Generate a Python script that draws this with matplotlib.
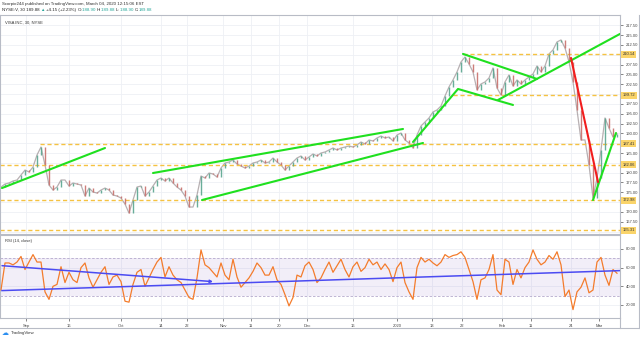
import numpy as np
import matplotlib.pyplot as plt
from matplotlib import transforms

plt.rcParams['font.family'] = ['Liberation Sans', 'DejaVu Sans']

# V, 30 min closes, sampled about once per session (bar index 0..154)
close = [176.35, 177.11, 177.37, 177.88, 178.13, 179.40, 180.67, 180.17, 181.44, 184.49,
         186.53, 181.95, 176.86, 175.58, 176.35, 178.13, 178.13, 176.60, 177.37, 177.11,
         176.86, 174.06, 176.09, 175.08, 174.82, 175.58, 176.09, 175.58, 174.31, 174.06,
         173.55, 172.02, 169.73, 173.04, 176.35, 176.60, 174.06, 175.08, 176.60, 178.13,
         178.64, 177.88, 178.64, 177.37, 176.35, 175.58, 174.06, 171.26, 171.26, 174.31,
         179.15, 178.64, 179.91, 179.66, 178.89, 181.18, 182.46, 182.71, 183.22, 182.20,
         181.69, 181.18, 181.69, 182.46, 182.71, 183.22, 182.46, 182.71, 183.73, 182.71,
         181.95, 180.67, 181.69, 182.71, 183.73, 184.24, 183.22, 183.98, 184.75, 184.24,
         185.00, 185.26, 185.77, 186.27, 185.77, 186.27, 186.53, 186.78, 186.53, 187.04,
         187.80, 187.29, 188.31, 188.06, 188.82, 189.33, 188.82, 189.07, 188.06, 189.58,
         190.09, 188.31, 187.55, 186.27, 189.58, 191.87, 192.89, 193.91, 195.44, 195.95,
         196.96, 199.51, 201.80, 203.58, 205.62, 208.16, 209.43, 207.65, 205.62, 201.04,
         202.56, 203.07, 204.09, 206.63, 201.54, 199.76, 203.07, 204.85, 202.05, 203.58,
         202.56, 203.58, 204.34, 205.11, 207.14, 205.62, 207.14, 210.20, 211.22, 213.25,
         213.76, 211.72, 208.16, 203.07, 195.95, 188.31, 188.31, 181.95, 173.55, 178.64,
         185.77, 193.91, 191.37, 189.07, 189.88]

rsi = [36, 65, 65, 63, 66, 72, 58, 66, 74, 66,
       66, 34, 26, 40, 42, 61, 44, 55, 47, 44,
       60, 65, 49, 39, 47, 55, 61, 42, 50, 52,
       45, 24, 23, 42, 55, 58, 40, 49, 58, 66,
       71, 50, 61, 52, 47, 44, 36, 28, 26, 49,
       79, 63, 60, 55, 50, 65, 52, 47, 69, 50,
       39, 44, 49, 56, 65, 60, 52, 52, 61, 47,
       42, 31, 19, 28, 52, 50, 62, 66, 58, 44,
       49, 58, 66, 55, 62, 69, 58, 50, 61, 66,
       56, 60, 69, 63, 66, 58, 64, 58, 45, 60,
       66, 44, 34, 26, 60, 71, 66, 69, 65, 62,
       66, 74, 71, 73, 74, 77, 71, 58, 45, 26,
       47, 49, 58, 74, 36, 31, 69, 66, 42, 58,
       49, 60, 66, 79, 69, 63, 66, 73, 69, 77,
       63, 29, 36, 15, 34, 39, 49, 33, 36, 66,
       71, 52, 41, 58, 54]

tick_pos = [6.25, 17, 30, 40, 46.5, 55.5, 62.5, 69.5, 76.5, 88, 99, 107.75, 115.25,
            125.25, 132.5, 142.5, 149.5]
tick_lab = ['Sep', '16', 'Oct', '14', '22', 'Nov', '11', '20', 'Dec', '16', '2020',
            '13', '22', 'Feb', '11', '24', 'Mar']

levels = [210.14, 199.72, 187.41, 182.06, 172.98, 165.31]
level_from = [115.5, 113, 9.75, -0.25, -0.25, -0.25]

green_lines = [
    [(0.25, 176.09), (26, 186.27)],
    [(38, 179.91), (100.5, 191.11)],
    [(50.25, 173.04), (105.5, 187.55)],
    [(103, 187.80), (114.25, 201.29), (128, 197.22)],
    [(115.5, 210.20), (134, 203.83)],
    [(124.25, 198.49), (154.75, 215.29)],
    [(148, 173.04), (153.75, 190.09)],
]
red_line = [(142.5, 209.18), (149.25, 177.62)]
rsi_arrow = [(0.25, 62.1), (53, 45.0)]
rsi_trend = [(0.25, 35.4), (154.75, 56.8)]

W, H = 640, 341
fig = plt.figure(figsize=(W / 100, H / 100), dpi=100)
ax = fig.add_axes([0, 1 - 234 / H, 620 / W, 219 / H])
ax2 = fig.add_axes([0, 1 - 318 / H, 620 / W, 83 / H], sharex=ax)

grid_c = '#eef0f5'
frame_c = '#b8bcc6'
fs = 3.0

# candles: open = previous close
x = np.arange(len(close))
c = np.array(close)
o = np.r_[c[0], c[:-1]]
up = c >= o
ax.plot(x, c, color='#9a8f92', lw=0.9, alpha=0.7, zorder=2)
ax.vlines(x[up], o[up], c[up], color='#5aa58f', lw=1.0, alpha=0.9, zorder=3)
ax.vlines(x[~up], o[~up], c[~up], color='#c9706c', lw=1.0, alpha=0.9, zorder=3)

for lv, x0 in zip(levels, level_from):
    ax.hlines(lv, x0, 154.75, color='#f5c242', lw=1.0, linestyles=(0, (3, 2)), zorder=2)
    ax.text(1.004, lv, f'{lv:.2f}', transform=transforms.blended_transform_factory(ax.transAxes, ax.transData),
            fontsize=fs, color='#333', va='center', ha='left', clip_on=False,
            bbox=dict(boxstyle='square,pad=0.35', fc='#fad46a', ec='none'))

for seg in green_lines:
    xs, ys = zip(*seg)
    ax.plot(xs, ys, color='#1fe01f', lw=1.5, solid_capstyle='round', zorder=4)
xs, ys = zip(*red_line)
ax.plot(xs, ys, color='#f21d1d', lw=1.5, solid_capstyle='round', zorder=4)

yt = np.arange(165, 218.5, 2.5)
hidden = {165.0, 172.5, 182.5, 187.5, 200.0, 210.0}
ax.set_yticks(yt, ['' if v in hidden else f'{v:.2f}' for v in yt])
ax.set_ylim(164.4, 220.1)
ax.set_xlim(-0.25, 154.75)
ax.text(0.008, 0.975, 'VISA INC, 30, NYSE', transform=ax.transAxes, fontsize=fs, color='#333',
        va='top', ha='left')

# RSI pane
ax2.axhspan(30, 70, color='#9575cd', alpha=0.12, lw=0)
ax2.axhline(70, color='#b4a9cc', lw=0.6, ls=(0, (3, 2)))
ax2.axhline(30, color='#b4a9cc', lw=0.6, ls=(0, (3, 2)))
ax2.plot(np.arange(len(rsi)), rsi, color='#f47c2c', lw=0.9, zorder=3)
ax2.annotate('', xy=rsi_arrow[1], xytext=rsi_arrow[0],
             arrowprops=dict(arrowstyle='->', color='#4b4bf2', lw=1.1, mutation_scale=4,
                             shrinkA=0, shrinkB=0), zorder=4)
xs, ys = zip(*rsi_trend)
ax2.plot(xs, ys, color='#4b4bf2', lw=1.1, zorder=4)
ax2.set_ylim(6, 95)
ax2.set_yticks([20, 40, 60, 80], ['20.00', '40.00', '60.00', '80.00'])
ax2.text(0.008, 0.95, 'RSI (14, close)', transform=ax2.transAxes, fontsize=fs, color='#333',
         va='top', ha='left')
ax2.set_xticks(tick_pos, tick_lab)

for a in (ax, ax2):
    a.yaxis.tick_right()
    a.tick_params(axis='y', labelsize=fs, colors='#555', length=2, width=0.5, pad=2,
                  labelcolor='#444')
    a.grid(True, color=grid_c, lw=0.6)
    a.set_axisbelow(True)
    for s in a.spines.values():
        s.set_color(frame_c)
        s.set_linewidth(0.8)
ax.tick_params(axis='x', length=0, labelbottom=False)
ax2.tick_params(axis='x', labelsize=fs, colors='#555', length=2, width=0.5, pad=2,
                labelcolor='#444')

# outer frame for the time scale strip
fig.add_artist(plt.Line2D([0, 1], [1 - 328 / H] * 2, color=frame_c, lw=0.8))
fig.add_artist(plt.Line2D([620 / W] * 2, [1 - 328 / H, 1 - 318 / H], color=frame_c, lw=0.8))
fig.add_artist(plt.Line2D([1 - 1 / W] * 2, [1 - 328 / H, 1 - 15 / H], color=frame_c, lw=0.8))

# header lines, pieces placed one after another
renderer = fig.canvas.get_renderer()


def chain(parts, x0, y0, size):
    xp = x0
    for s, col in parts:
        t = fig.text(xp / W, 1 - y0 / H, s, fontsize=size, color=col, va='center', ha='left')
        xp = t.get_window_extent(renderer).x1


teal = '#26a69a'
chain([('Scorpio244 published on TradingView.com, March 04, 2020 12:15:06 EST', '#333')], 2, 4, 3.2)
chain([('NYSE:V, 30 189.88 ', '#222'), ('\u25b2 ', teal), ('+4.15 (+2.23%) ', '#222'),
       ('O:', '#222'), ('188.90 ', teal), ('H:', '#222'), ('189.88 ', teal),
       ('L:', '#222'), ('188.90 ', teal), ('C:', '#222'), ('189.88', teal)], 2, 10, 3.2)

fig.text(2 / W, 1 - 333 / H, '\u2601', fontsize=5, color='#2a8ef0', va='center', ha='left',
         family=['DejaVu Sans'])
fig.text(11 / W, 1 - 333 / H, 'TradingView', fontsize=3.2, color='#333', va='center', ha='left')

fig.savefig('out.png', dpi=100)
